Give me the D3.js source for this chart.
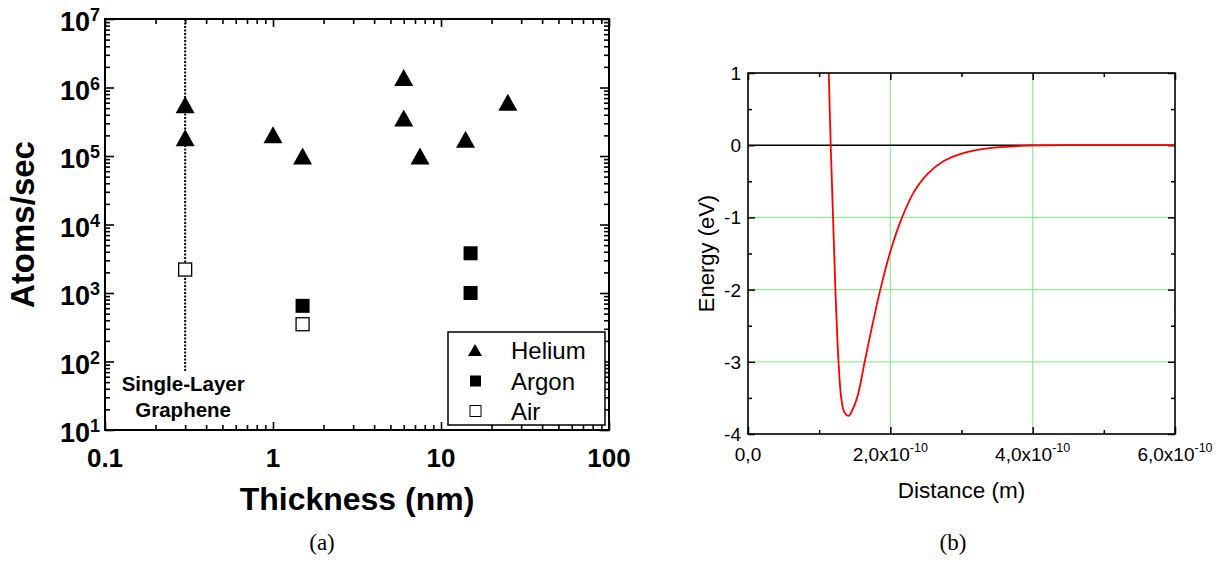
<!DOCTYPE html>
<html><head><meta charset="utf-8">
<script src="https://cdn.jsdelivr.net/npm/d3@7"></script>
<style>body{margin:0;background:#fff} svg{display:block}</style>
</head><body>
<svg id="c" width="1228" height="563"></svg>
<script>
// ---------- Panel (a) data ----------
const heliumThickness = [0.3, 0.3, 1.0, 1.5, 6, 6, 7.5, 14, 25];
const heliumRate      = [5.6e5, 1.85e5, 2.05e5, 1.0e5, 1.4e6, 3.6e5, 1.0e5, 1.75e5, 6.1e5];
const argonThickness  = [1.5, 15, 15];
const argonRate       = [650, 3800, 1000];
const airThickness    = [0.3, 1.5];
const airRate         = [2200, 350];
const xTicksA         = [0.1, 1, 10, 100];
const xTickLabelsA    = ["0.1", "1", "10", "100"];
const yTicksA         = [1e1, 1e2, 1e3, 1e4, 1e5, 1e6, 1e7];
const yTickExpA       = ["1", "2", "3", "4", "5", "6", "7"];
const legendNames     = ["Helium", "Argon", "Air"];
const grapheneThickness = 0.3;
const grapheneLineRange = [70, 1e7];
const grapheneLabel   = ["Single-Layer", "Graphene"];

// ---------- Panel (b) data ----------
const distance = [1.135e-10, 1.162e-10, 1.195e-10, 1.228e-10, 1.262e-10, 1.272e-10, 1.31e-10, 1.355e-10, 1.413e-10,
                  1.47e-10, 1.541e-10, 1.64e-10, 1.75e-10, 1.859e-10, 2.01e-10, 2.165e-10, 2.33e-10, 2.52e-10,
                  2.75e-10, 2.99e-10, 3.31e-10, 3.78e-10, 4.2e-10, 4.6e-10, 6.0e-10];
const energy   = [1.0, 0, -1.0, -2.0, -2.83, -3.0, -3.5, -3.70, -3.75,
                  -3.66, -3.47, -3.0, -2.48, -2.0, -1.44, -1.0, -0.65, -0.40,
                  -0.22, -0.12, -0.05, -0.012, -0.002, 0, 0];
const xTicksB      = [0, 2e-10, 4e-10, 6e-10];
const xTickMantB   = ["0,0", "2,0", "4,0", "6,0"];
const xMinorB      = [1e-10, 3e-10, 5e-10];
const yTicksB      = [1, 0, -1, -2, -3, -4];
const yMinorB      = [0.5, -0.5, -1.5, -2.5, -3.5];
const gridXB       = [2e-10, 4e-10];
const gridYB       = [-1, -2, -3];

const svg = d3.select("#c");
const SANS = "Liberation Sans, Arial, sans-serif";

// ================= PANEL (a) =================
const A = {l: 105, r: 609, t: 19, b: 430};
const xA = d3.scaleLog().domain([0.1, 100]).range([A.l, A.r]);
const yA = d3.scaleLog().domain([10, 1e7]).range([A.b, A.t]);
const gA = svg.append("g");

const minorX = [], minorY = [];
for (let d = -1; d < 2; d++) for (let k = 2; k <= 9; k++) minorX.push(k * Math.pow(10, d));
for (let d = 1; d < 7; d++) for (let k = 2; k <= 9; k++) minorY.push(k * Math.pow(10, d));

function tickAxis(g, axisGen, transform, w) {
  const a = g.append("g").attr("transform", transform).call(axisGen);
  a.select(".domain").remove();
  a.selectAll("text").remove();
  a.selectAll("line").attr("stroke", "#000").attr("stroke-width", w);
}
tickAxis(gA, d3.axisBottom(xA).tickValues(xTicksA).tickSize(-8), `translate(0,${A.b})`, 1.6);
tickAxis(gA, d3.axisBottom(xA).tickValues(minorX).tickSize(-5), `translate(0,${A.b})`, 1.6);
tickAxis(gA, d3.axisTop(xA).tickValues(xTicksA).tickSize(-8), `translate(0,${A.t})`, 1.6);
tickAxis(gA, d3.axisTop(xA).tickValues(minorX).tickSize(-5), `translate(0,${A.t})`, 1.6);
tickAxis(gA, d3.axisLeft(yA).tickValues(yTicksA).tickSize(-9), `translate(${A.l},0)`, 1.6);
tickAxis(gA, d3.axisLeft(yA).tickValues(minorY).tickSize(-5), `translate(${A.l},0)`, 1.6);
tickAxis(gA, d3.axisRight(yA).tickValues(yTicksA).tickSize(-9), `translate(${A.r},0)`, 1.6);
tickAxis(gA, d3.axisRight(yA).tickValues(minorY).tickSize(-5), `translate(${A.r},0)`, 1.6);

gA.append("rect").attr("x", A.l).attr("y", A.t).attr("width", A.r - A.l).attr("height", A.b - A.t)
  .attr("fill", "none").attr("stroke", "#000").attr("stroke-width", 2);

gA.selectAll("text.xl").data(xTicksA).join("text")
  .attr("x", d => xA(d)).attr("y", A.b + 37).attr("text-anchor", "middle")
  .attr("font-family", SANS).attr("font-weight", "bold").attr("font-size", 26)
  .text((d, i) => xTickLabelsA[i]);
yTicksA.forEach((v, i) => {
  const t = gA.append("text").attr("x", A.l - 5).attr("y", yA(v) + 12).attr("text-anchor", "end")
    .attr("font-family", SANS).attr("font-weight", "bold").attr("font-size", 27);
  t.append("tspan").text("10");
  t.append("tspan").attr("dy", -10).attr("font-size", 18).text(yTickExpA[i]);
});
gA.append("text").attr("x", (A.l + A.r) / 2).attr("y", A.b + 80).attr("text-anchor", "middle")
  .attr("font-family", SANS).attr("font-weight", "bold").attr("font-size", 32)
  .text("Thickness (nm)");
gA.append("text").attr("transform", `translate(34,${(A.t + A.b) / 2}) rotate(-90)`).attr("text-anchor", "middle")
  .attr("font-family", SANS).attr("font-weight", "bold").attr("font-size", 33)
  .text("Atoms/sec");

gA.append("line").attr("x1", xA(grapheneThickness)).attr("x2", xA(grapheneThickness))
  .attr("y1", yA(grapheneLineRange[1])).attr("y2", yA(grapheneLineRange[0]))
  .attr("stroke", "#000").attr("stroke-width", 2).attr("stroke-dasharray", "2,1.5");
grapheneLabel.forEach((s, i) => {
  gA.append("text").attr("x", xA(grapheneThickness) - 2).attr("y", 391 + i * 26).attr("text-anchor", "middle")
    .attr("font-family", SANS).attr("font-weight", "bold").attr("font-size", 20.5)
    .text(s);
});

const tri = (w, h) => `M0,${-h / 2}L${w / 2},${h / 2}L${-w / 2},${h / 2}Z`;
gA.selectAll("path.he").data(heliumThickness).join("path")
  .attr("transform", (d, i) => `translate(${xA(d)},${yA(heliumRate[i])})`)
  .attr("d", tri(19, 17)).attr("fill", "#000");
gA.selectAll("rect.ar").data(argonThickness).join("rect")
  .attr("x", d => xA(d) - 7).attr("y", (d, i) => yA(argonRate[i]) - 7)
  .attr("width", 14).attr("height", 14).attr("fill", "#000");
gA.selectAll("rect.air").data(airThickness).join("rect")
  .attr("x", d => xA(d) - 6.5).attr("y", (d, i) => yA(airRate[i]) - 6.5)
  .attr("width", 13).attr("height", 13).attr("fill", "#fff").attr("stroke", "#000").attr("stroke-width", 1.3);

const lg = gA.append("g");
lg.append("rect").attr("x", 448).attr("y", 332).attr("width", 157).attr("height", 93)
  .attr("fill", "#fff").attr("stroke", "#000").attr("stroke-width", 1.5);
const legY = [350, 381, 411];
lg.append("path").attr("transform", `translate(475,${legY[0]})`).attr("d", tri(14, 12)).attr("fill", "#000");
lg.append("rect").attr("x", 470).attr("y", legY[1] - 5.5).attr("width", 11).attr("height", 11).attr("fill", "#000");
lg.append("rect").attr("x", 470).attr("y", legY[2] - 5.5).attr("width", 11).attr("height", 11)
  .attr("fill", "#fff").attr("stroke", "#000").attr("stroke-width", 1);
legendNames.forEach((n, i) => {
  lg.append("text").attr("x", 511).attr("y", legY[i] + 8.5).attr("font-family", SANS)
    .attr("font-size", 24).text(n);
});

svg.append("text").attr("x", 322).attr("y", 550).attr("text-anchor", "middle")
  .attr("font-family", "Liberation Serif, serif").attr("font-size", 23).text("(a)");

// ================= PANEL (b) =================
const B = {l: 748, r: 1175, t: 73, b: 434};
const xB = d3.scaleLinear().domain([0, 6e-10]).range([B.l, B.r]);
const yB = d3.scaleLinear().domain([-4, 1]).range([B.b, B.t]);
const gB = svg.append("g");

gB.selectAll("line.gx").data(gridXB).join("line")
  .attr("x1", d => xB(d)).attr("x2", d => xB(d)).attr("y1", B.t).attr("y2", B.b)
  .attr("stroke", "#90ee90").attr("stroke-width", 1.2);
gB.selectAll("line.gy").data(gridYB).join("line")
  .attr("x1", B.l).attr("x2", B.r).attr("y1", d => yB(d)).attr("y2", d => yB(d))
  .attr("stroke", "#90ee90").attr("stroke-width", 1.2);
gB.append("line").attr("x1", B.l).attr("x2", B.r).attr("y1", yB(0)).attr("y2", yB(0))
  .attr("stroke", "#000").attr("stroke-width", 1.5);

tickAxis(gB, d3.axisBottom(xB).tickValues(xTicksB).tickSize(-7), `translate(0,${B.b})`, 1.5);
tickAxis(gB, d3.axisBottom(xB).tickValues(xMinorB).tickSize(-4), `translate(0,${B.b})`, 1.5);
tickAxis(gB, d3.axisTop(xB).tickValues(xTicksB).tickSize(-7), `translate(0,${B.t})`, 1.5);
tickAxis(gB, d3.axisTop(xB).tickValues(xMinorB).tickSize(-4), `translate(0,${B.t})`, 1.5);
tickAxis(gB, d3.axisLeft(yB).tickValues(yTicksB).tickSize(-7), `translate(${B.l},0)`, 1.5);
tickAxis(gB, d3.axisLeft(yB).tickValues(yMinorB).tickSize(-4), `translate(${B.l},0)`, 1.5);
tickAxis(gB, d3.axisRight(yB).tickValues(yTicksB).tickSize(-7), `translate(${B.r},0)`, 1.5);
tickAxis(gB, d3.axisRight(yB).tickValues(yMinorB).tickSize(-4), `translate(${B.r},0)`, 1.5);

gB.append("path").datum(distance.map((d, i) => [d, energy[i]]))
  .attr("d", d3.line().x(d => xB(d[0])).y(d => yB(d[1])).curve(d3.curveCatmullRom.alpha(0.5)))
  .attr("fill", "none").attr("stroke", "#ff0000").attr("stroke-width", 1.8);

gB.append("rect").attr("x", B.l).attr("y", B.t).attr("width", B.r - B.l).attr("height", B.b - B.t)
  .attr("fill", "none").attr("stroke", "#000").attr("stroke-width", 1.6);

gB.selectAll("text.yl").data(yTicksB).join("text")
  .attr("x", B.l - 7).attr("y", d => yB(d) + 7).attr("text-anchor", "end")
  .attr("font-family", SANS).attr("font-size", 19)
  .text(d => String(d));
xTicksB.forEach((v, i) => {
  const t = gB.append("text").attr("x", xB(v)).attr("y", B.b + 27).attr("text-anchor", "middle")
    .attr("font-family", SANS).attr("font-size", 19);
  if (v === 0) { t.text(xTickMantB[i]); return; }
  t.append("tspan").text(xTickMantB[i] + "x10");
  t.append("tspan").attr("dy", -9).attr("font-size", 12.5).text("-10");
});
gB.append("text").attr("x", (B.l + B.r) / 2).attr("y", B.b + 64).attr("text-anchor", "middle")
  .attr("font-family", SANS).attr("font-size", 22.5).text("Distance (m)");
gB.append("text").attr("transform", `translate(714,${(B.t + B.b) / 2}) rotate(-90)`).attr("text-anchor", "middle")
  .attr("font-family", SANS).attr("font-size", 22).text("Energy (eV)");

svg.append("text").attr("x", 953).attr("y", 550).attr("text-anchor", "middle")
  .attr("font-family", "Liberation Serif, serif").attr("font-size", 23).text("(b)");
</script>
</body></html>
